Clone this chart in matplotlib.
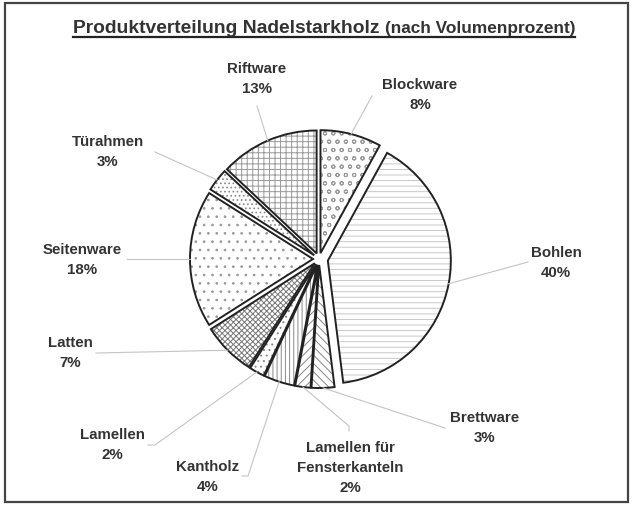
import numpy as np
import matplotlib
matplotlib.use("Agg")
import matplotlib.pyplot as plt
from matplotlib.patches import Rectangle

# data (percent of volume), clockwise from the top
labels = ["Blockware", "Bohlen", "Brettware", "Lamellen für\nFensterkanteln", "Kantholz",
          "Lamellen", "Latten", "Seitenware", "Türahmen", "Riftware"]
values = [8, 40, 3, 2, 4, 2, 7, 18, 3, 13]

# styling
hatches = ["oo", "---", "\\\\\\\\", "////", "||||", "...", "xxxxxx", "..", "....", "+++"]
hatch_col = ["#999999", "#c8c8c8", "#888888", "#888888", "#888888",
             "#888888", "#777777", "#999999", "#888888", "#999999"]
explode = [6, 9, 6, 6, 6, 6, 6, 6, 6, 6]

# label centres and leader-line points (pixels from top-left)
label_pos = [(420, 95), (556, 263), (485, 428), (350, 468), (208, 477),
             (112, 445), (70, 353), (82, 260), (108, 152), (257, 79)]
leaders = [[(372, 97)], [(528, 263)], [(445, 429)], [(349, 427), (349, 432)],
           [(248, 477), (242, 477)], [(155, 446), (148, 446)], [(96, 354)],
           [(127, 260)], [(155, 153)], [(257, 107)]]

H = 506
fam = ["Liberation Sans", "DejaVu Sans"]
txt = "#333333"
plt.rcParams["hatch.linewidth"] = 0.7

fig = plt.figure(figsize=(6.33, 5.06), dpi=100)
ax = fig.add_axes([0, 0, 1, 1])

center = (319, H - 260)
r = 123

# hatch fill pass
wedges, _ = ax.pie(values, startangle=90, counterclock=False, explode=explode,
                   center=center, radius=r, frame=True,
                   wedgeprops=dict(facecolor="white", linewidth=0))
for w, h, c in zip(wedges, hatches, hatch_col):
    w.set_hatch(h)
    w.set_edgecolor(c)
    w.set_linewidth(0)

# outline pass
outl, _ = ax.pie(values, startangle=90, counterclock=False, explode=explode,
                 center=center, radius=r, frame=True,
                 wedgeprops=dict(fill=False, edgecolor="#222222", linewidth=1.4))
ax.set_xlim(0, 633)
ax.set_ylim(0, H)
ax.set_aspect("equal")
ax.axis("off")

for w, lab, v, (lx, ly), pts in zip(outl, labels, values, label_pos, leaders):
    mid = np.deg2rad((w.theta1 + w.theta2) / 2)
    xs = [w.center[0] + w.r * np.cos(mid)] + [p[0] for p in pts]
    ys = [w.center[1] + w.r * np.sin(mid)] + [H - p[1] for p in pts]
    ax.plot(xs, ys, color="#c4c4c4", lw=0.8)
    ax.text(lx, H - ly, f"{lab}\n{v}%", ha="center", va="center", fontsize=10.8,
            fontweight="bold", color=txt, family=fam, linespacing=1.55)

# title in two parts, sized to the reference widths, then underlined
t1 = fig.text(73 / 633, 1 - 33 / H, "Produktverteilung Nadelstarkholz", fontsize=13,
              fontweight="bold", color=txt, family=fam, va="baseline")
t2 = fig.text(385 / 633, 1 - 33 / H, "(nach Volumenprozent)", fontsize=10,
              fontweight="bold", color=txt, family=fam, va="baseline")
fig.canvas.draw()
for t, want in ((t1, 306), (t2, 190)):
    bb = t.get_window_extent()
    t.set_fontsize(t.get_fontsize() * want / bb.width)
ax.plot([73, 575], [H - 38, H - 38], color="#222222", lw=1.6)

# frame around the chart
ax.add_patch(Rectangle((5, H - 503), 623, 499, fill=False, edgecolor="#444444", lw=1.6))

fig.savefig("out.png", dpi=100)
